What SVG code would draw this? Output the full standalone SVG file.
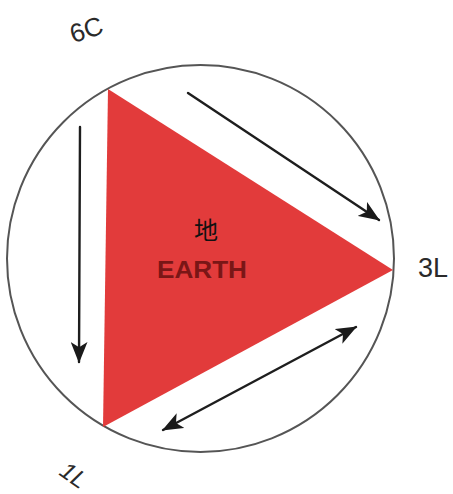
<svg xmlns="http://www.w3.org/2000/svg" width="453" height="494" viewBox="0 0 453 494">
  <style>
    .conn { stroke: #1e1e1e; stroke-width: 2.4; fill: none; stroke-linecap: round; }
    .lbl { font-family: "Liberation Sans", "DejaVu Sans", sans-serif; fill: #2a2a2a; }
  </style>
  <defs>
    <marker id="ah" viewBox="0 0 20 16" refX="19" refY="8" markerWidth="21" markerHeight="17" markerUnits="userSpaceOnUse" orient="auto-start-reverse">
      <path d="M0,0 L20,8 L0,16 L5,8 Z" fill="#1a1a1a"/>
    </marker>
  </defs>
  <rect width="453" height="494" fill="#ffffff"/>
  <g id="circle">
    <circle cx="200.5" cy="258.5" r="193.5" fill="none" stroke="#555555" stroke-width="2"/>
  </g>
  <g id="earth">
    <polygon points="108,89 393,270 103,427" fill="#e23b3b"/>
    <text x="206" y="239" font-family="'Noto Sans CJK SC', sans-serif" font-size="24" text-anchor="middle" fill="#111111">地</text>
    <text x="202" y="278" font-family="'Liberation Sans', sans-serif" font-weight="bold" font-size="24" text-anchor="middle" textLength="90" lengthAdjust="spacingAndGlyphs" fill="#7a1616">EARTH</text>
  </g>
  <g id="label-6C">
    <text class="lbl" x="0" y="0" font-size="26" text-anchor="middle" transform="translate(89,38) rotate(-18)">6C</text>
  </g>
  <g id="label-3L">
    <text class="lbl" x="433" y="277" font-size="27" text-anchor="middle">3L</text>
  </g>
  <g id="label-1L">
    <text class="lbl" x="0" y="0" font-size="24" font-style="italic" text-anchor="middle" transform="translate(69,482) rotate(35)">1L</text>
  </g>
  <g id="connectors">
    <line class="conn" x1="188" y1="93" x2="379" y2="220" marker-end="url(#ah)"/>
    <line class="conn" x1="80" y1="127" x2="79" y2="362" marker-end="url(#ah)"/>
    <line class="conn" x1="163" y1="430" x2="356" y2="327" marker-start="url(#ah)" marker-end="url(#ah)"/>
  </g>
</svg>
